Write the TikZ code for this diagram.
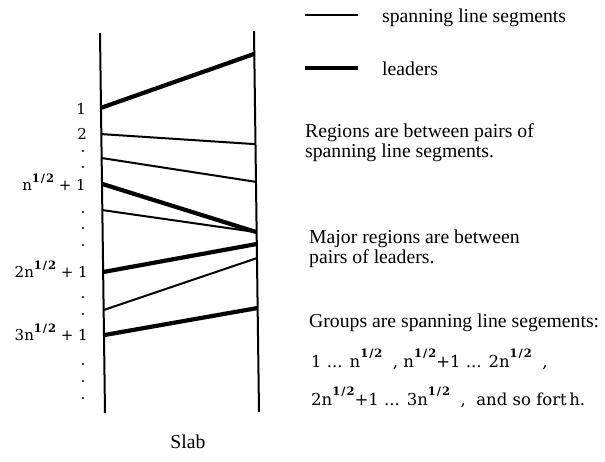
\documentclass[tikz,border=0pt]{standalone}
\usepackage{fontspec}
\setmainfont{Liberation Serif}
\newfontfamily\lblfont{DejaVu Serif}
\usetikzlibrary{calc}

% raised bold "1/2" exponent; argument is the raise
\newcommand\halfexp[1]{\raisebox{#1}{\fontsize{11.5}{11.5}\selectfont\bfseries 1\kern1pt/\kern1pt2}}

\begin{document}
\begin{tikzpicture}[x=1pt,y=-1pt,
  slab/.style={line width=2pt},
  spanseg/.style={line width=2pt},
  leader/.style={line width=4.2pt},
  txt/.style={anchor=base west,inner sep=0pt,font=\fontsize{19.7}{20}\selectfont},
  grp/.style={anchor=base west,inner sep=0pt,font=\lblfont\fontsize{16.5}{16.5}\selectfont},
  lbl/.style={anchor=base east,inner sep=0pt,font=\lblfont\fontsize{15}{15}\selectfont},
  dotmark/.style={circle,fill,inner sep=0pt,minimum size=2.2pt}]
\useasboundingbox (0,0) rectangle (605,461);

% the two sides of the slab
\coordinate (L0) at (100,33);
\coordinate (L1) at (105,413);
\coordinate (R0) at (254,31);
\coordinate (R1) at (259,412);
\draw[slab] (L0) -- (L1);
\draw[slab] (R0) -- (R1);

% end points on the left side
\path ($(L0)!0.197!(L1)$) coordinate (l1)
      ($(L0)!0.266!(L1)$) coordinate (l2)
      ($(L0)!0.329!(L1)$) coordinate (l3)
      ($(L0)!0.397!(L1)$) coordinate (l4)
      ($(L0)!0.466!(L1)$) coordinate (l5)
      ($(L0)!0.629!(L1)$) coordinate (l6)
      ($(L0)!0.729!(L1)$) coordinate (l7)
      ($(L0)!0.795!(L1)$) coordinate (l8);
% end points on the right side
\path ($(R0)!0.060!(R1)$) coordinate (r1)
      ($(R0)!0.297!(R1)$) coordinate (r2)
      ($(R0)!0.396!(R1)$) coordinate (r3)
      ($(R0)!0.528!(R1)$) coordinate (r4)
      ($(R0)!0.559!(R1)$) coordinate (r5)
      ($(R0)!0.596!(R1)$) coordinate (r6)
      ($(R0)!0.727!(R1)$) coordinate (r7);

% spanning segments and leaders
\draw[leader]  (l1) -- (r1);
\draw[spanseg] (l2) -- (r2);
\draw[spanseg] (l3) -- (r3);
\draw[leader]  (l4) -- (r4);
\draw[spanseg] (l5) -- (r4);
\draw[leader]  (l6) -- (r5);
\draw[spanseg] (l7) -- (r6);
\draw[leader]  (l8) -- (r7);

% index labels on the left
\node[lbl] (n1) at (86,114) {1};
\node[lbl] (n2) at (87,139) {2};
\node[lbl] (n3) at (86,190) {n\halfexp{8pt}\ + 1};
\node[lbl] (n4) at (88,277) {2n\halfexp{8pt}\ + 1};
\node[lbl] (n5) at (88,340) {3n\halfexp{8pt}\ + 1};
\foreach \y [count=\i] in {151,167,212,228,245,297,314,364,381,398}
  \node[dotmark] (d\i) at (83,\y) {};

% legend
\coordinate (k1) at (305,15);
\coordinate (k2) at (358,15);
\coordinate (k3) at (305,68);
\coordinate (k4) at (358,68);
\draw[spanseg] (k1) -- (k2);
\draw[leader]  (k3) -- (k4);
\node[txt] (t1) at (382,22) {spanning line segments};
\node[txt] (t2) at (382,75) {leaders};

% explanations
\node[txt] (t3) at (305,137) {Regions are between pairs of};
\node[txt] (t4) at (305,157) {spanning line segments.};
\node[txt] (t5) at (309,243) {Major regions are between};
\node[txt] (t6) at (309,263) {pairs of leaders.};
\node[txt] (t7) at (309,327) {Groups are spanning line segements:};
\node[grp] (g1) at (311,367) {1 ... n\halfexp{10pt}\ \ , n\halfexp{10pt}+1 ... 2n\halfexp{10pt}\ \ ,};
\node[grp] (g2) at (311,405) {2n\halfexp{10pt}+1 ... 3n\halfexp{10pt}\ \ ,\ \ and so fort\kern2.5pt h.};

\node[txt,anchor=base] (slab) at (188,448) {Slab};
\end{tikzpicture}
\end{document}
